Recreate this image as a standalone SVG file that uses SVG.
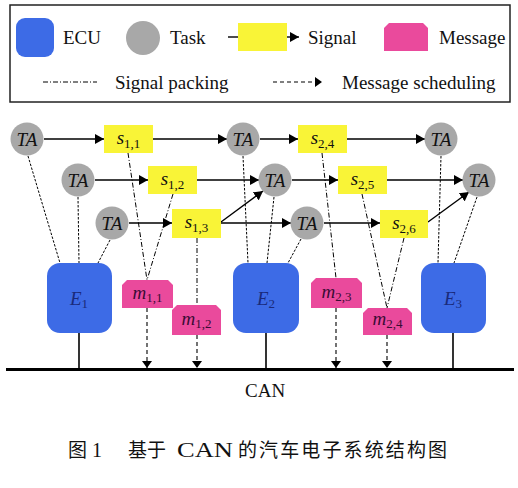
<svg xmlns="http://www.w3.org/2000/svg" width="518" height="488" viewBox="0 0 518 488">
<style>
text{font-family:"Liberation Serif","Times New Roman",serif;font-size:19px;fill:#111}
.ecu{fill:#3d6be6}
.task{fill:#a8a8a8}
.sig{fill:#f9f437}
.msg{fill:#ea4a9c}
.it{font-style:italic}
.sub{font-size:13px}
.c{text-anchor:middle}
.el{fill:#1a2a7a}
.ml{fill:#3a0c35}
.arr{stroke:#000;stroke-width:1.4;fill:none;marker-end:url(#ah)}
.pack{stroke:#000;stroke-width:1;fill:none;stroke-dasharray:5 2 1 2}
.assign{stroke:#000;stroke-width:1;fill:none;stroke-dasharray:2.5 1.5}
.sched{stroke:#000;stroke-width:1.1;fill:none;stroke-dasharray:4 3;marker-end:url(#ah2)}
.solid{stroke:#000;stroke-width:1.6;fill:none}
</style>
<defs>
<marker id="ah" markerUnits="userSpaceOnUse" markerWidth="10" markerHeight="10" refX="9" refY="5" orient="auto"><path d="M0,0 L9,5 L0,10 z" fill="#000"/></marker>
<marker id="ah2" markerUnits="userSpaceOnUse" markerWidth="8" markerHeight="10" refX="7" refY="5" orient="auto"><path d="M0,0 L7,5 L0,10 z" fill="#000"/></marker>
</defs>
<rect width="518" height="488" fill="#fff"/>
<g id="legend">
<rect x="10" y="5" width="500" height="97" fill="none" stroke="#222" stroke-width="1.5"/>
<rect class="ecu" x="16" y="18" width="38" height="39" rx="9"/>
<text x="63" y="44">ECU</text>
<circle class="task" cx="143" cy="38" r="17"/>
<text x="170" y="44">Task</text>
<line x1="228" y1="37" x2="238" y2="37" stroke="#000" stroke-width="1.4"/>
<rect class="sig" x="238" y="23" width="49" height="28"/>
<line class="arr" x1="287" y1="37" x2="299" y2="37"/>
<text x="308" y="44">Signal</text>
<path class="msg" d="M384,51 L384,28 L389,23 L423,23 L428,28 L428,51 z"/>
<text x="439" y="44">Message</text>
<line class="pack" x1="43" y1="82" x2="97" y2="82"/>
<text x="115" y="89">Signal packing</text>
<line class="sched" x1="273" y1="82" x2="322" y2="82"/>
<text x="342" y="89">Message scheduling</text>
</g>
<g id="connectors">
<!-- row 1 -->
<line class="arr" x1="44" y1="139" x2="104" y2="139"/>
<line class="arr" x1="153" y1="139" x2="227" y2="139"/>
<line class="arr" x1="260" y1="139" x2="298" y2="139"/>
<line class="arr" x1="347" y1="139" x2="425" y2="139"/>
<!-- row 2 -->
<line class="arr" x1="95" y1="180" x2="148" y2="180"/>
<line class="arr" x1="197" y1="180" x2="259" y2="180"/>
<line class="arr" x1="292" y1="180" x2="338" y2="180"/>
<line class="arr" x1="387" y1="180" x2="463" y2="180"/>
<!-- row 3 -->
<line class="arr" x1="129" y1="223" x2="172" y2="223"/>
<line class="arr" x1="221" y1="223" x2="291" y2="223"/>
<line class="arr" x1="324" y1="223" x2="380" y2="223"/>
<line class="arr" x1="221" y1="222" x2="263" y2="191"/>
<line class="arr" x1="428" y1="222" x2="469" y2="192"/>
<!-- task to ECU -->
<line class="assign" x1="28" y1="156" x2="60" y2="263"/>
<line class="assign" x1="78" y1="197" x2="79" y2="263"/>
<line class="assign" x1="110" y1="240" x2="98" y2="263"/>
<line class="assign" x1="243" y1="156" x2="248" y2="263"/>
<line class="assign" x1="274" y1="197" x2="267" y2="263"/>
<line class="assign" x1="301" y1="239" x2="288" y2="263"/>
<line class="assign" x1="441" y1="156" x2="438" y2="263"/>
<line class="assign" x1="477" y1="197" x2="454" y2="263"/>
<!-- signal packing -->
<line class="pack" x1="128" y1="153" x2="147" y2="280"/>
<line class="pack" x1="173" y1="194" x2="147" y2="280"/>
<line class="pack" x1="197" y1="238" x2="197" y2="305"/>
<line class="pack" x1="322" y1="153" x2="336" y2="278"/>
<line class="pack" x1="362" y1="194" x2="387" y2="308"/>
<line class="pack" x1="404" y1="238" x2="387" y2="308"/>
<!-- message scheduling -->
<line class="sched" x1="147" y1="308" x2="147" y2="368"/>
<line class="sched" x1="197" y1="335" x2="197" y2="368"/>
<line class="sched" x1="336" y1="308" x2="336" y2="368"/>
<line class="sched" x1="387" y1="335" x2="387" y2="368"/>
<!-- ECU to bus -->
<line class="solid" x1="79" y1="333" x2="79" y2="369"/>
<line class="solid" x1="266" y1="333" x2="266" y2="369"/>
<line class="solid" x1="453" y1="333" x2="453" y2="369"/>
</g>
<g id="bus">
<line x1="6" y1="369.5" x2="514" y2="369.5" stroke="#000" stroke-width="3"/>
<text x="245" y="397">CAN</text>
</g>
<g id="t1"><circle class="task" cx="27" cy="139" r="16.5"/><text class="it c" x="27" y="146">TA</text></g>
<g id="t2"><circle class="task" cx="243" cy="139" r="16.5"/><text class="it c" x="243" y="146">TA</text></g>
<g id="t3"><circle class="task" cx="441" cy="139" r="16.5"/><text class="it c" x="441" y="146">TA</text></g>
<g id="t4"><circle class="task" cx="78" cy="180" r="16.5"/><text class="it c" x="78" y="187">TA</text></g>
<g id="t5"><circle class="task" cx="275" cy="180" r="16.5"/><text class="it c" x="275" y="187">TA</text></g>
<g id="t6"><circle class="task" cx="479" cy="180" r="16.5"/><text class="it c" x="479" y="187">TA</text></g>
<g id="t7"><circle class="task" cx="112" cy="223" r="16.5"/><text class="it c" x="112" y="230">TA</text></g>
<g id="t8"><circle class="task" cx="307" cy="223" r="16.5"/><text class="it c" x="307" y="230">TA</text></g>
<g id="s11"><rect class="sig" x="104" y="125" width="49" height="28"/><text class="c" x="128.5" y="144"><tspan class="it">s</tspan><tspan class="sub" dy="4">1,1</tspan></text></g>
<g id="s12"><rect class="sig" x="148" y="166" width="49" height="28"/><text class="c" x="172.5" y="185"><tspan class="it">s</tspan><tspan class="sub" dy="4">1,2</tspan></text></g>
<g id="s13"><rect class="sig" x="172" y="209" width="49" height="29"/><text class="c" x="196.5" y="228"><tspan class="it">s</tspan><tspan class="sub" dy="4">1,3</tspan></text></g>
<g id="s24"><rect class="sig" x="298" y="125" width="49" height="28"/><text class="c" x="322.5" y="144"><tspan class="it">s</tspan><tspan class="sub" dy="4">2,4</tspan></text></g>
<g id="s25"><rect class="sig" x="338" y="166" width="49" height="28"/><text class="c" x="362.5" y="185"><tspan class="it">s</tspan><tspan class="sub" dy="4">2,5</tspan></text></g>
<g id="s26"><rect class="sig" x="380" y="210" width="48" height="28"/><text class="c" x="404" y="229"><tspan class="it">s</tspan><tspan class="sub" dy="4">2,6</tspan></text></g>
<g id="e1"><rect class="ecu" x="47" y="263" width="65" height="70" rx="13"/><text class="el c" x="79" y="305"><tspan class="it">E</tspan><tspan class="sub" dy="3">1</tspan></text></g>
<g id="e2"><rect class="ecu" x="233" y="263" width="66" height="70" rx="13"/><text class="el c" x="266" y="305"><tspan class="it">E</tspan><tspan class="sub" dy="3">2</tspan></text></g>
<g id="e3"><rect class="ecu" x="421" y="263" width="65" height="70" rx="13"/><text class="el c" x="453" y="305"><tspan class="it">E</tspan><tspan class="sub" dy="3">3</tspan></text></g>
<g id="m11"><path class="msg" d="M122,308 L122,285 L127,280 L168,280 L173,285 L173,308 z"/><text class="ml c" x="147.5" y="299"><tspan class="it">m</tspan><tspan class="sub" dy="3">1,1</tspan></text></g>
<g id="m12"><path class="msg" d="M172,335 L172,310 L177,305 L216,305 L221,310 L221,335 z"/><text class="ml c" x="196.5" y="325"><tspan class="it">m</tspan><tspan class="sub" dy="3">1,2</tspan></text></g>
<g id="m23"><path class="msg" d="M311,308 L311,283 L316,278 L357,278 L362,283 L362,308 z"/><text class="ml c" x="336.5" y="298"><tspan class="it">m</tspan><tspan class="sub" dy="3">2,3</tspan></text></g>
<g id="m24"><path class="msg" d="M363,335 L363,313 L368,308 L407,308 L412,313 L412,335 z"/><text class="ml c" x="387.5" y="325"><tspan class="it">m</tspan><tspan class="sub" dy="3">2,4</tspan></text></g>
<g id="caption">
<text x="68" y="457" style="font-family:'Noto Sans CJK SC',sans-serif;font-size:19px">图</text>
<text x="92" y="457" style="font-size:20px">1</text>
<text x="128" y="457" style="font-family:'Noto Sans CJK SC',sans-serif;font-size:19px">基于</text>
<text x="177" y="457" style="font-size:21px" textLength="56" lengthAdjust="spacingAndGlyphs">CAN</text>
<text x="238" y="457" style="font-family:'Noto Sans CJK SC',sans-serif;font-size:19px" textLength="209">的汽车电子系统结构图</text>
</g>
</svg>
